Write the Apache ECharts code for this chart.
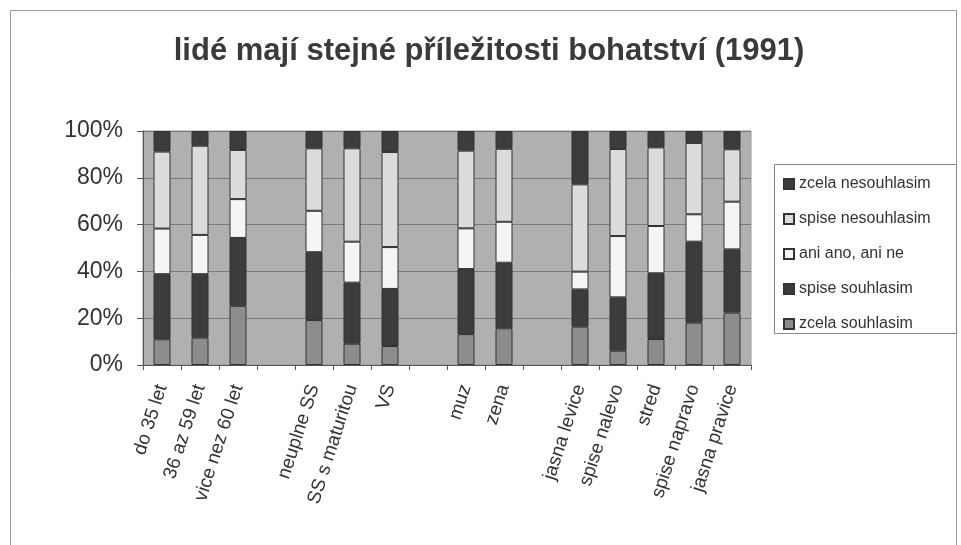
<!DOCTYPE html>
<html>
<head>
<meta charset="utf-8">
<script src="https://cdn.jsdelivr.net/npm/echarts@6/dist/echarts.min.js"></script>
<style>
html, body { margin: 0; padding: 0; background: #fff; }
#chart { width: 961px; height: 545px; }
</style>
</head>
<body>
<div id="chart"></div>
<script>
// kategorie, prazdne retezce jsou mezery mezi skupinami
var categories = ['do 35 let', '36 az 59 let', 'vice nez 60 let', '',
    'neuplne SS', 'SS s maturitou', 'VS', '',
    'muz', 'zena', '',
    'jasna levice', 'spise nalevo', 'stred', 'spise napravo', 'jasna pravice'];

// podily v procentech (null = mezera)
var zcelaSouhlasim    = [11.0, 11.7, 25.3, null, 19.2,  9.1,  8.1, null, 13.2, 15.7, null, 16.4,  6.1, 11.1, 18.1, 22.4];
var spiseSouhlasim    = [27.8, 27.1, 29.0, null, 29.0, 26.1, 24.4, null, 27.8, 28.0, null, 15.9, 22.8, 28.1, 34.6, 27.0];
var aniAnoAniNe       = [19.5, 16.8, 16.6, null, 17.7, 17.5, 17.9, null, 17.4, 17.5, null,  7.6, 26.2, 20.2, 11.7, 20.4];
var spiseNesouhlasim  = [32.9, 38.1, 21.0, null, 26.7, 39.9, 40.6, null, 33.2, 31.2, null, 37.3, 37.2, 33.6, 30.5, 22.4];
var zcelaNesouhlasim  = [ 8.8,  6.3,  8.1, null,  7.4,  7.4,  9.0, null,  8.4,  7.6, null, 22.8,  7.7,  7.0,  5.1,  7.8];

var yTicks = [0, 20, 40, 60, 80, 100];

var chart = echarts.init(document.getElementById('chart'));

function mkSeries(name, data, color) {
    return {
        name: name,
        type: 'bar',
        stack: 'total',
        barWidth: 17,
        data: data,
        itemStyle: { color: color, borderColor: '#333', borderWidth: 1 }
    };
}

chart.setOption({
    animation: false,
    title: {
        text: 'lidé mají stejné příležitosti bohatství (1991)',
        left: 484,
        textAlign: 'center',
        top: 31,
        textStyle: { fontFamily: 'Liberation Sans', fontSize: 31, fontWeight: 'bold', color: '#3a3a3a' }
    },
    graphic: [
        { type: 'rect', left: 8, top: 8, shape: { width: 946, height: 600 },
          style: { fill: null, stroke: '#999', lineWidth: 1 } },
        { type: 'rect', left: 774, top: 164, shape: { width: 182, height: 169 },
          style: { fill: '#fff', stroke: '#888', lineWidth: 1 }, z: 1 }
    ],
    legend: {
        orient: 'vertical',
        left: 778,
        top: 171,
        icon: 'rect',
        itemWidth: 10,
        itemHeight: 10,
        itemGap: 19,
        z: 5,
        data: ['zcela nesouhlasim', 'spise nesouhlasim', 'ani ano, ani ne', 'spise souhlasim', 'zcela souhlasim'],
        textStyle: { fontFamily: 'Liberation Sans', fontSize: 16, color: '#333' }
    },
    grid: {
        left: 143, right: 210, top: 131, bottom: 180,
        show: true, backgroundColor: '#b0b0b0', borderColor: '#999', borderWidth: 1
    },
    xAxis: {
        type: 'category',
        data: categories,
        boundaryGap: true,
        axisLine: { lineStyle: { color: '#555' } },
        axisTick: { show: true, interval: 0, length: 5, lineStyle: { color: '#555' } },
        axisLabel: {
            interval: 0, rotate: 72, margin: 20,
            fontFamily: 'Liberation Sans', fontSize: 19, color: '#333'
        }
    },
    yAxis: {
        type: 'value',
        min: yTicks[0],
        max: yTicks[yTicks.length - 1],
        interval: 20,
        axisLine: { show: true, lineStyle: { color: '#555' } },
        axisTick: { show: true, length: 6, inside: false, lineStyle: { color: '#555' } },
        splitLine: { lineStyle: { color: '#7a7a7a' } },
        axisLabel: {
            formatter: '{value}%', margin: 20,
            fontFamily: 'Liberation Sans', fontSize: 23, color: '#333'
        }
    },
    series: [
        mkSeries('zcela souhlasim', zcelaSouhlasim, '#8c8c8c'),
        mkSeries('spise souhlasim', spiseSouhlasim, '#3c3c3c'),
        mkSeries('ani ano, ani ne', aniAnoAniNe, '#f5f5f5'),
        mkSeries('spise nesouhlasim', spiseNesouhlasim, '#dcdcdc'),
        mkSeries('zcela nesouhlasim', zcelaNesouhlasim, '#3c3c3c')
    ]
});
</script>
</body>
</html>
